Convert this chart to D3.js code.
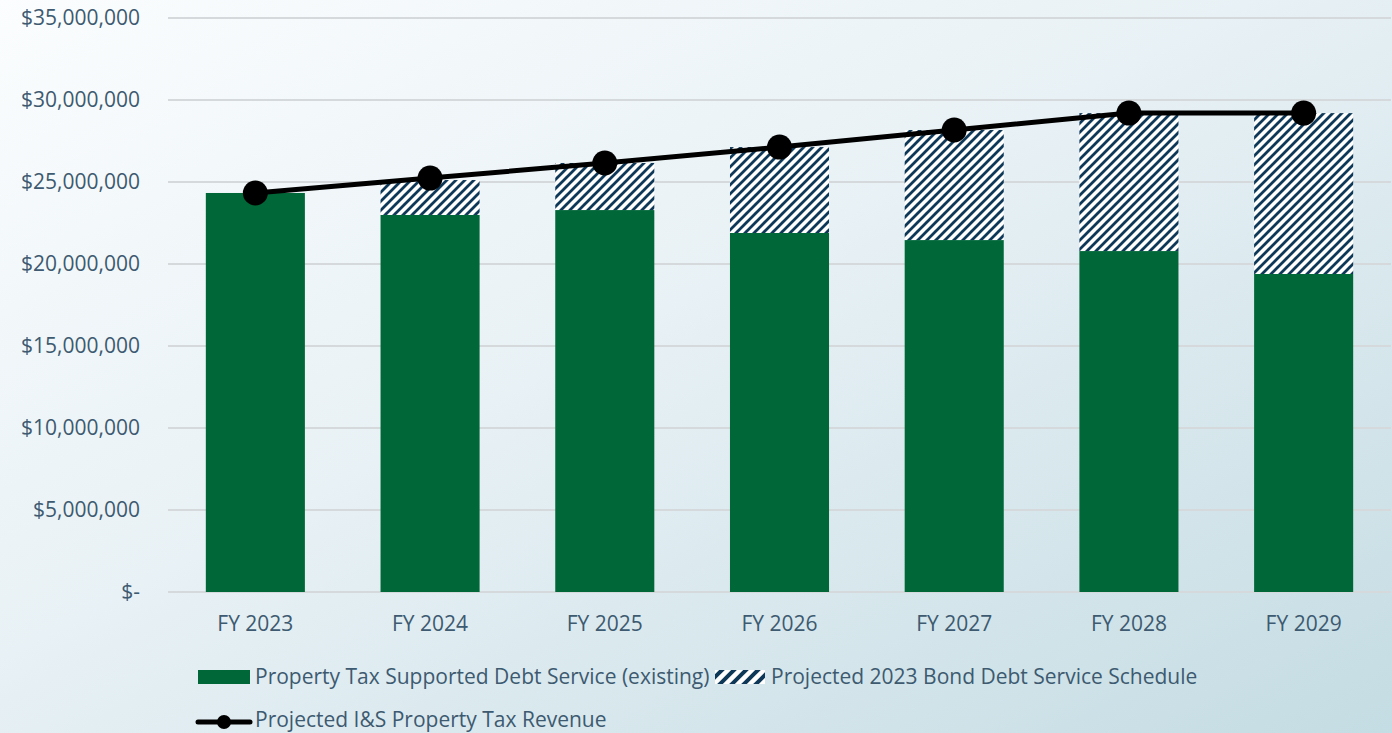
<!DOCTYPE html>
<html>
<head>
<meta charset="utf-8">
<script src="https://cdn.jsdelivr.net/npm/d3@7"></script>
<style>
  html, body { margin: 0; padding: 0; }
  svg { display: block; }
  text { font-family: "Open Sans", "Noto Sans", sans-serif; fill: #3d5a70; }
</style>
</head>
<body>
<div id="chart"></div>
<script>
// data
const years = ["FY 2023", "FY 2024", "FY 2025", "FY 2026", "FY 2027", "FY 2028", "FY 2029"];
const existingDebt = [24330000, 22990000, 23290000, 21890000, 21460000, 20790000, 19390000];
const bondDebt = [0, 2130000, 2870000, 5240000, 6710000, 8410000, 9810000];
const taxRevenue = [24330000, 25240000, 26160000, 27130000, 28170000, 29200000, 29200000];
const yTicks = [0, 5000000, 10000000, 15000000, 20000000, 25000000, 30000000, 35000000];

const width = 1392;
const height = 733;
const margin = { top: 18, right: 1, bottom: 141, left: 168 };
const innerWidth = width - margin.left - margin.right;
const innerHeight = height - margin.top - margin.bottom;

const svg = d3.select("#chart")
  .append("svg")
  .attr("width", width)
  .attr("height", height);

const defs = svg.append("defs");

const bg = defs.append("linearGradient")
  .attr("id", "bg")
  .attr("x1", "0%").attr("y1", "0%")
  .attr("x2", "100%").attr("y2", "100%");
bg.append("stop").attr("offset", "0%").attr("stop-color", "#fbfdfe");
bg.append("stop").attr("offset", "45%").attr("stop-color", "#e8f1f5");
bg.append("stop").attr("offset", "100%").attr("stop-color", "#c4dce3");

const hatch = defs.append("pattern")
  .attr("id", "hatch")
  .attr("patternUnits", "userSpaceOnUse")
  .attr("width", 9)
  .attr("height", 9);
hatch.append("rect").attr("width", 9).attr("height", 9).attr("fill", "#ffffff");
hatch.append("path")
  .attr("d", "M-2,2 L2,-2 M0,9 L9,0 M7,11 L11,7")
  .attr("stroke", "#0e3857")
  .attr("stroke-width", 2.8);

// wider stripes for the legend swatch
const hatchKey = defs.append("pattern")
  .attr("id", "hatchKey")
  .attr("patternUnits", "userSpaceOnUse")
  .attr("width", 12)
  .attr("height", 12);
hatchKey.append("rect").attr("width", 12).attr("height", 12).attr("fill", "#ffffff");
hatchKey.append("path")
  .attr("d", "M-3,3 L3,-3 M0,12 L12,0 M9,15 L15,9")
  .attr("stroke", "#0e3857")
  .attr("stroke-width", 4);

svg.append("rect")
  .attr("width", width)
  .attr("height", height)
  .attr("fill", "url(#bg)");

const g = svg.append("g")
  .attr("transform", `translate(${margin.left}, ${margin.top})`);

const x = d3.scaleBand()
  .domain(years)
  .range([0, innerWidth])
  .paddingInner(0.433)
  .paddingOuter(0.2165);

const y = d3.scaleLinear()
  .domain([0, 35000000])
  .range([innerHeight, 0]);

// gridlines
g.selectAll("line.grid")
  .data(yTicks)
  .enter()
  .append("line")
  .attr("class", "grid")
  .attr("x1", 0)
  .attr("x2", innerWidth)
  .attr("y1", d => y(d))
  .attr("y2", d => y(d))
  .attr("stroke", "#d6d9db")
  .attr("stroke-width", 2);

const fmt = d3.format(",");
g.selectAll("text.ylab")
  .data(yTicks)
  .enter()
  .append("text")
  .attr("class", "ylab")
  .attr("x", -28)
  .attr("y", d => y(d))
  .attr("dy", "0.35em")
  .attr("text-anchor", "end")
  .style("font-size", "21px")
  .text(d => d === 0 ? "$-" : "$" + fmt(d));

// stacked bars
const rows = years.map((yr, i) => ({ yr, a: existingDebt[i], b: bondDebt[i] }));

g.selectAll("rect.existing")
  .data(rows)
  .enter()
  .append("rect")
  .attr("class", "existing")
  .attr("x", d => x(d.yr))
  .attr("y", d => y(d.a))
  .attr("width", x.bandwidth())
  .attr("height", d => innerHeight - y(d.a))
  .attr("fill", "#006838");

g.selectAll("rect.bond")
  .data(rows.filter(d => d.b > 0))
  .enter()
  .append("rect")
  .attr("class", "bond")
  .attr("x", d => x(d.yr))
  .attr("y", d => y(d.a + d.b))
  .attr("width", x.bandwidth())
  .attr("height", d => y(d.a) - y(d.a + d.b))
  .attr("fill", "url(#hatch)");

// x labels
g.selectAll("text.xlab")
  .data(years)
  .enter()
  .append("text")
  .attr("class", "xlab")
  .attr("x", d => x(d) + x.bandwidth() / 2)
  .attr("y", innerHeight + 32)
  .attr("dy", "0.35em")
  .attr("text-anchor", "middle")
  .style("font-size", "21px")
  .text(d => d);

// revenue line
const line = d3.line()
  .x((d, i) => x(years[i]) + x.bandwidth() / 2)
  .y(d => y(d));

g.append("path")
  .datum(taxRevenue)
  .attr("d", line)
  .attr("fill", "none")
  .attr("stroke", "#000")
  .attr("stroke-width", 5);

g.selectAll("circle.pt")
  .data(taxRevenue)
  .enter()
  .append("circle")
  .attr("class", "pt")
  .attr("cx", (d, i) => x(years[i]) + x.bandwidth() / 2)
  .attr("cy", d => y(d))
  .attr("r", 12.5)
  .attr("fill", "#000");

// legend
const legend = svg.append("g");

legend.append("rect")
  .attr("x", 198).attr("y", 670)
  .attr("width", 52).attr("height", 14)
  .attr("fill", "#006838");
legend.append("text")
  .attr("x", 255).attr("y", 677)
  .attr("dy", "0.35em")
  .style("font-size", "21px")
  .text("Property Tax Supported Debt Service (existing)");

legend.append("rect")
  .attr("x", 715).attr("y", 670)
  .attr("width", 50).attr("height", 14)
  .attr("fill", "url(#hatchKey)");
legend.append("text")
  .attr("x", 771).attr("y", 677)
  .attr("dy", "0.35em")
  .style("font-size", "21px")
  .text("Projected 2023 Bond Debt Service Schedule");

legend.append("line")
  .attr("x1", 198).attr("x2", 250)
  .attr("y1", 722).attr("y2", 722)
  .attr("stroke", "#000")
  .attr("stroke-width", 5)
  .attr("stroke-linecap", "round");
legend.append("circle")
  .attr("cx", 224).attr("cy", 722)
  .attr("r", 7)
  .attr("fill", "#000");
legend.append("text")
  .attr("x", 255).attr("y", 720)
  .attr("dy", "0.35em")
  .style("font-size", "21px")
  .text("Projected I&S Property Tax Revenue");
</script>
</body>
</html>
